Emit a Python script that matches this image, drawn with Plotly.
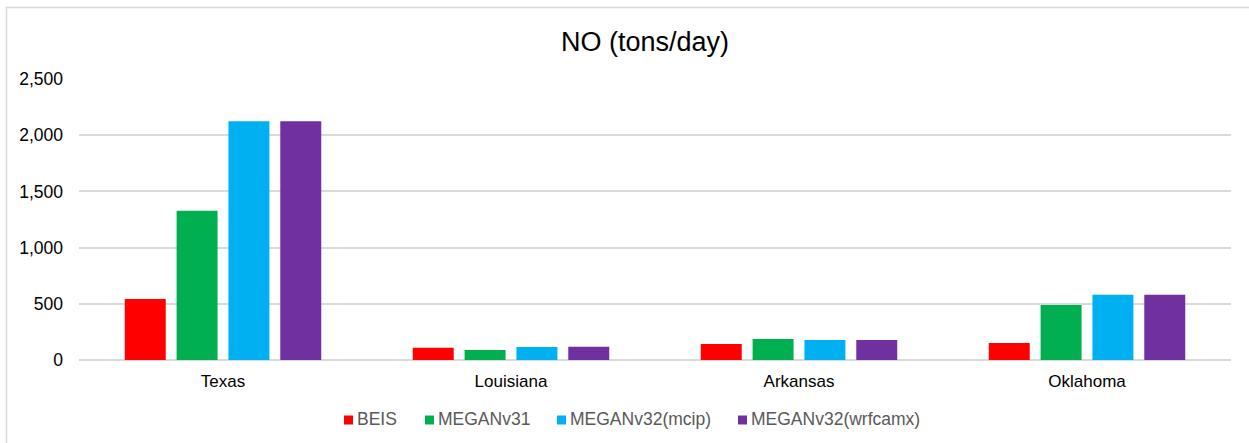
import plotly.graph_objects as go

# NO emissions (tons/day) by state and biogenic model
states = ["Texas", "Louisiana", "Arkansas", "Oklahoma"]
beis = [542, 108, 142, 151]
megan_v31 = [1327, 88, 187, 489]
megan_v32_mcip = [2124, 116, 178, 580]
megan_v32_wrfcamx = [2124, 118, 178, 580]

series_names = ["BEIS", "MEGANv31", "MEGANv32(mcip)", "MEGANv32(wrfcamx)"]
series_values = [beis, megan_v31, megan_v32_mcip, megan_v32_wrfcamx]
series_colors = ["#FF0000", "#00B050", "#00B0F0", "#7030A0"]

y_ticks = [0, 500, 1000, 1500, 2000, 2500]

FONT = "Liberation Sans, Arial, sans-serif"

W, H = 1249, 443
ml, mr, mt, mb = 79, 18, 79, 83
pw, ph = W - ml - mr, H - mt - mb


def px_x(p):
    return (p - ml) / pw


def px_y(p):
    return (H - mb - p) / ph


fig = go.Figure()
for name, vals, color in zip(series_names, series_values, series_colors):
    fig.add_trace(go.Bar(
        name=name, x=states, y=vals, showlegend=False,
        marker=dict(color=color, line=dict(width=0)),
    ))

# compact legend row below the axis: small square swatch + label per series
legend_left_px = [344, 425, 557, 738]
legend_cy_px = 420
swatch = 9
shapes = [dict(type="rect", xref="paper", yref="paper",
               x0=px_x(6.5), x1=px_x(1260), y0=px_y(460), y1=px_y(7.5),
               line=dict(color="#D9D9D9", width=1.5),
               fillcolor="rgba(0,0,0,0)", layer="below")]
annotations = []
for name, color, lx in zip(series_names, series_colors, legend_left_px):
    shapes.append(dict(type="rect", xref="paper", yref="paper",
                       x0=px_x(lx), x1=px_x(lx + swatch),
                       y0=px_y(legend_cy_px + swatch / 2),
                       y1=px_y(legend_cy_px - swatch / 2),
                       line=dict(width=0), fillcolor=color))
    annotations.append(dict(text=name, xref="paper", yref="paper",
                            x=px_x(lx + swatch + 3), xanchor="left",
                            y=px_y(legend_cy_px - 1), yanchor="middle",
                            showarrow=False, borderpad=0,
                            font=dict(size=17.5, color="#595959", family=FONT)))

fig.update_layout(
    width=W, height=H,
    margin=dict(l=ml, r=mr, t=mt, b=mb, autoexpand=False),
    paper_bgcolor="white", plot_bgcolor="white",
    font=dict(family=FONT, size=17, color="#000000"),
    barmode="group", bargap=0.28, bargroupgap=0.21,
    title=dict(text="NO (tons/day)", x=px_x(645), xref="paper",
               xanchor="center", y=1 - 42 / H, yanchor="middle",
               font=dict(size=27, color="#000000", family=FONT)),
    showlegend=False,
    xaxis=dict(showgrid=False, showline=False, zeroline=False,
               ticks="", ticklabelstandoff=9,
               tickfont=dict(size=17, color="#000000")),
    yaxis=dict(range=[0, 2500], tickvals=y_ticks, tickformat=",d",
               showgrid=True, gridcolor="#D9D9D9", gridwidth=1.5,
               zeroline=True, zerolinecolor="#D9D9D9", zerolinewidth=1.5,
               showline=False, ticks="", ticklabelstandoff=15,
               tickfont=dict(size=17.5, color="#000000")),
    shapes=shapes,
    annotations=annotations,
)

fig.write_html("out.html")
